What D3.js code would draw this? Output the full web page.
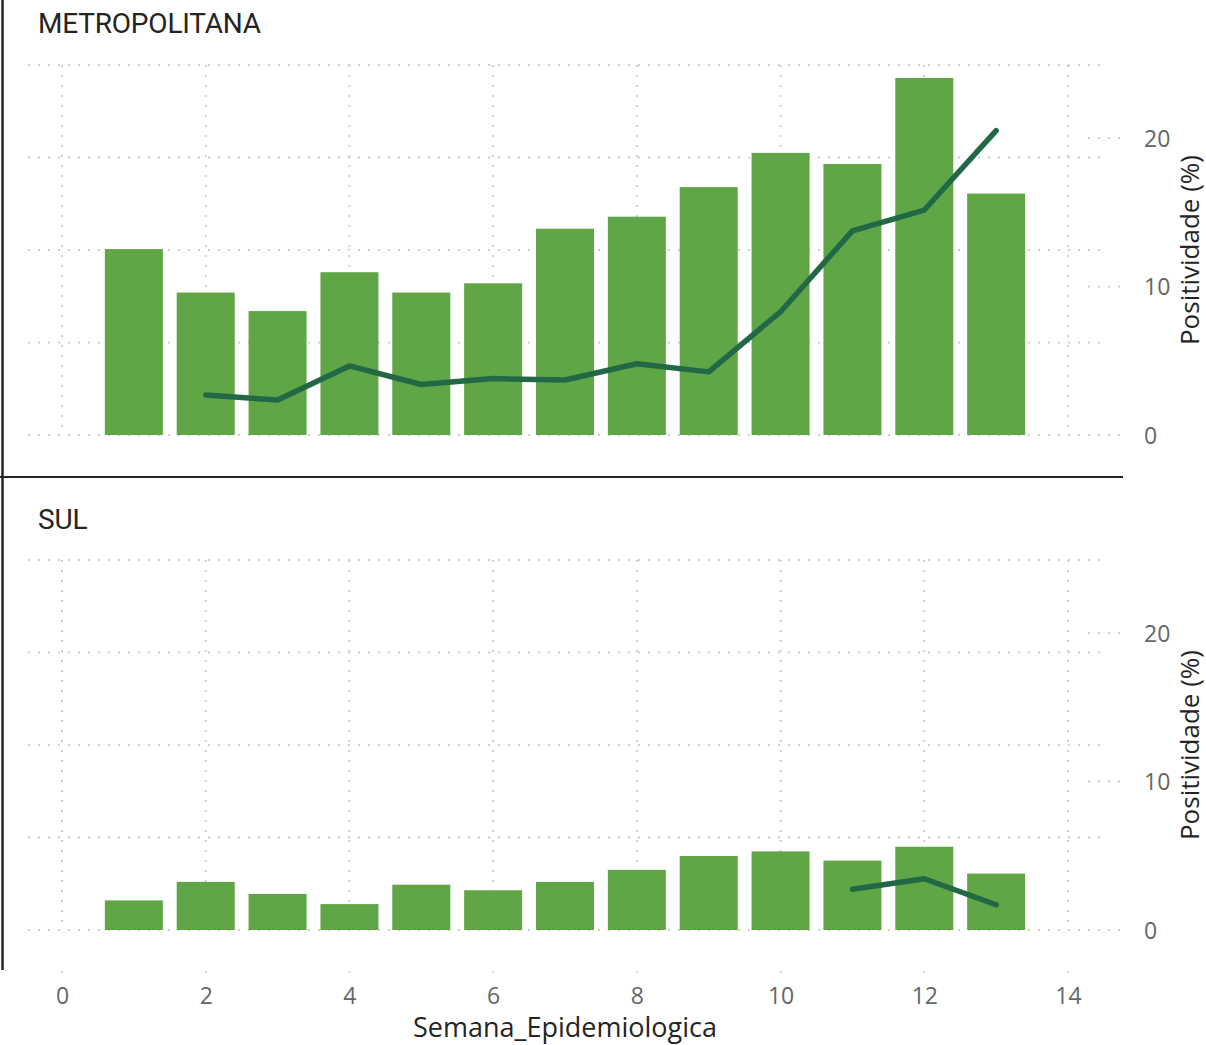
<!DOCTYPE html>
<html>
<head>
<meta charset="utf-8">
<script src="https://cdn.jsdelivr.net/npm/d3@7"></script>
<style>
  html, body { margin: 0; padding: 0; background: #fff; }
  svg { display: block; }
</style>
</head>
<body>
<svg id="chart" width="1206" height="1045"></svg>
<script>
// ---- Data ----
const weeks = [1, 2, 3, 4, 5, 6, 7, 8, 9, 10, 11, 12, 13];
const regions = ["METROPOLITANA", "SUL"];
// Bar values (hidden left axis)
const casesMetropolitana = [201, 154, 134, 176, 154, 164, 223, 236, 268, 305, 293, 386, 261];
const casesSul = [32, 52, 39, 28, 49, 43, 52, 65, 80, 85, 75, 90, 61];
// Line: Positividade (%)
const posWeeksMetropolitana = [2, 3, 4, 5, 6, 7, 8, 9, 10, 11, 12, 13];
const posMetropolitana = [2.7, 2.35, 4.65, 3.4, 3.8, 3.7, 4.8, 4.25, 8.3, 13.75, 15.15, 20.5];
const posWeeksSul = [11, 12, 13];
const posSul = [2.75, 3.45, 1.7];
const xTicks = [0, 2, 4, 6, 8, 10, 12, 14];
const rightTicks = [0, 10, 20];
const leftGridTicks = [0, 100, 200, 300, 400];

const panels = [
  { name: regions[0], bars: casesMetropolitana, lw: posWeeksMetropolitana, lv: posMetropolitana, top: 65, bottom: 435, titleY: 33 },
  { name: regions[1], bars: casesSul, lw: posWeeksSul, lv: posSul, top: 560, bottom: 930, titleY: 529 }
];

const svg = d3.select("#chart");
const barColor = "#60a646";
const lineColor = "#236846";
const gridColor = "#cfcfcf";

const x = d3.scaleLinear().domain([0, 14]).range([62, 1068]);
const barW = 58;

// frame lines
svg.append("line").attr("x1", 2.5).attr("x2", 2.5).attr("y1", 0).attr("y2", 970)
  .attr("stroke", "#252423").attr("stroke-width", 2.5);
svg.append("line").attr("x1", 0).attr("x2", 1123).attr("y1", 477).attr("y2", 477)
  .attr("stroke", "#252423").attr("stroke-width", 2);

panels.forEach((p, i) => {
  const g = svg.append("g");
  const yL = d3.scaleLinear().domain([0, 400]).range([p.bottom, p.top]);
  const yR = d3.scaleLinear().domain([0, 20]).range([p.bottom, p.bottom - 297]);

  // title
  g.append("text").attr("x", 38).attr("y", p.titleY)
    .attr("font-family", "Roboto, 'DejaVu Sans', sans-serif")
    .attr("font-size", 28).attr("letter-spacing", -0.2).attr("fill", "#252423")
    .text(p.name);

  // horizontal gridlines (left axis)
  g.selectAll(".hg").data(leftGridTicks).join("line")
    .attr("x1", 28).attr("x2", 1100)
    .attr("y1", d => yL(d)).attr("y2", d => yL(d))
    .attr("stroke", gridColor).attr("stroke-width", 2).attr("stroke-dasharray", "2,8");

  // vertical gridlines
  g.selectAll(".vg").data(xTicks).join("line")
    .attr("x1", d => x(d)).attr("x2", d => x(d))
    .attr("y1", p.top).attr("y2", p.bottom)
    .attr("stroke", gridColor).attr("stroke-width", 2).attr("stroke-dasharray", "2,8");

  // right axis small grid stubs
  g.selectAll(".rs").data(rightTicks).join("line")
    .attr("x1", 1088).attr("x2", 1126)
    .attr("y1", d => yR(d)).attr("y2", d => yR(d))
    .attr("stroke", gridColor).attr("stroke-width", 2).attr("stroke-dasharray", "2,8");

  // right axis via d3
  const axR = d3.axisRight(yR).tickValues(rightTicks).tickSize(0).tickPadding(0).tickFormat(d3.format("d"));
  const ag = g.append("g").attr("transform", "translate(1144,0)").call(axR);
  ag.select(".domain").remove();
  ag.selectAll("text").attr("font-family", "'Open Sans', sans-serif").attr("font-size", 23)
    .attr("fill", "#666666").attr("dy", "0.35em");

  // right axis title
  g.append("text")
    .attr("transform", `translate(1199,${(p.top + p.bottom) / 2}) rotate(-90)`)
    .attr("text-anchor", "middle")
    .attr("font-family", "'Open Sans', sans-serif").attr("font-size", 26)
    .attr("fill", "#252423")
    .text("Positividade (%)");

  // bars
  g.selectAll(".bar").data(weeks).join("rect")
    .attr("x", d => x(d) - barW / 2).attr("width", barW)
    .attr("y", (d, j) => yL(p.bars[j]))
    .attr("height", (d, j) => yL(0) - yL(p.bars[j]))
    .attr("fill", barColor);

  // line
  const lineData = p.lw.map((w, j) => [w, p.lv[j]]);
  g.append("path").datum(lineData)
    .attr("d", d3.line().x(d => x(d[0])).y(d => yR(d[1])))
    .attr("fill", "none").attr("stroke", lineColor).attr("stroke-width", 5.5)
    .attr("stroke-linecap", "round").attr("stroke-linejoin", "round");
});

// x axis
const axX = d3.axisBottom(x).tickValues(xTicks).tickSize(0).tickPadding(0).tickFormat(d3.format("d"));
const xg = svg.append("g").attr("transform", "translate(0,1004)").call(axX);
xg.select(".domain").remove();
xg.selectAll("text").attr("font-family", "'Open Sans', sans-serif").attr("font-size", 23)
  .attr("fill", "#666666").attr("dy", 0);

// tiny x tick marks
svg.selectAll(".xt").data(xTicks).join("line")
  .attr("x1", d => x(d)).attr("x2", d => x(d)).attr("y1", 971).attr("y2", 973)
  .attr("stroke", gridColor).attr("stroke-width", 1.5);

svg.append("text").attr("x", (x(0) + x(14)) / 2).attr("y", 1037)
  .attr("text-anchor", "middle")
  .attr("font-family", "'Open Sans', sans-serif").attr("font-size", 27)
  .attr("fill", "#252423")
  .text("Semana_Epidemiologica");
</script>
</body>
</html>
